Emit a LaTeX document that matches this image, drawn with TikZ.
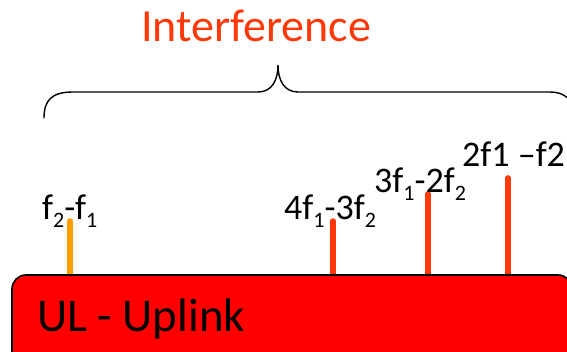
\documentclass[tikz,border=0pt]{standalone}
\usepackage{fontspec}
\setmainfont{Carlito}
\definecolor{imred}{RGB}{255,56,8}
\definecolor{imorange}{RGB}{255,160,0}
\definecolor{bandred}{RGB}{255,0,0}
\newcommand\lowidx[1]{\raisebox{-0.2em}{\fontsize{22}{24}\selectfont #1}}
\begin{document}
\begin{tikzpicture}[x=1pt,y=-1pt,
  stem/.style={line width=5.5pt,line cap=round},
  imlabel/.style={anchor=base west,inner sep=0pt,font=\fontsize{36}{40}\selectfont},
  brace/.style={line width=1.4pt,line cap=round},
  band/.style={draw=black,fill=bandred,line width=1.6pt,rounded corners=14pt}]
\useasboundingbox (0,0) rectangle (567,352);

% title over the brace
\node[anchor=base west,inner sep=0pt,text=imred,font=\fontsize{46}{54}\selectfont] (title) at (141,42) {Interference};

% curly brace spanning the intermodulation products
\coordinate (bl) at (44,118);
\coordinate (btip) at (278,65);
\coordinate (br) at (576,118);
\draw[brace] (bl) .. controls (44,100) and (52,92) .. (73,92) -- (258,92)
  .. controls (272,92) and (278,80) .. (btip)
  .. controls (278,80) and (284,92) .. (298,92) -- (550,92)
  .. controls (565,92) and (574,100) .. (br);

% stem end points
\coordinate (s0b) at (70,276); \coordinate (s0t) at (70,221);
\coordinate (s1b) at (333,276); \coordinate (s1t) at (333,221);
\coordinate (s2b) at (428,276); \coordinate (s2t) at (428,194);
\coordinate (s3b) at (508,276); \coordinate (s3t) at (508,178);

% intermodulation stems
\draw[stem,imorange] (s0b) -- (s0t);
\draw[stem,imred] (s1b) -- (s1t);
\draw[stem,imred] (s2b) -- (s2t);
\draw[stem,imred] (s3b) -- (s3t);

% uplink band
\draw[band] (12,275) rectangle (572,380);
\node[anchor=base west,inner sep=0pt,font=\fontsize{47}{54}\selectfont] (ul) at (37,331) {UL - Uplink};

% product labels
\node[imlabel] (l0) at (42,220) {f\lowidx{2}-f\lowidx{1}};
\node[imlabel] (l1) at (284,220) {4f\lowidx{1}-3f\lowidx{2}};
\node[imlabel] (l2) at (374,193) {3f\lowidx{1}-2f\lowidx{2}};
\node[imlabel] (l3) at (462,167) {2f1 –f2};
\end{tikzpicture}
\end{document}
